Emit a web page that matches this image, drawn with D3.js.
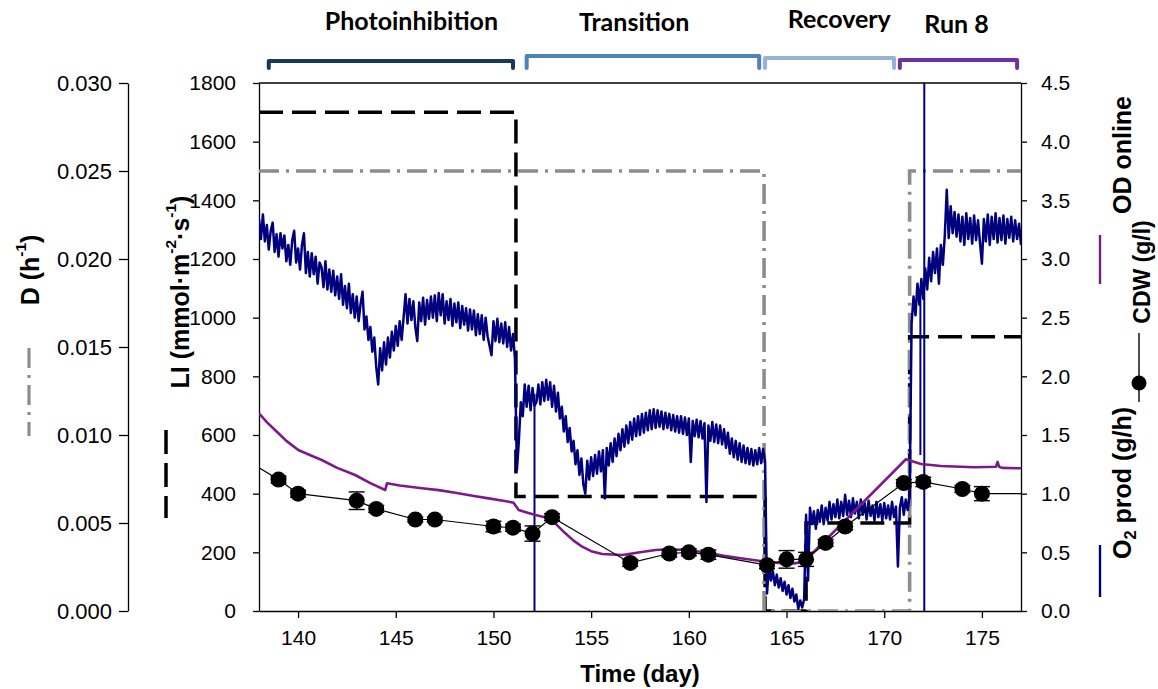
<!DOCTYPE html>
<html><head><meta charset="utf-8">
<script src="https://cdn.jsdelivr.net/npm/d3@7"></script>
<style>body{margin:0;background:#fff}svg{display:block}</style>
</head><body>
<svg id="c" width="1158" height="689"></svg>
<script>
// ---------------- data ----------------
const xTicks = [140,145,150,155,160,165,170,175];
const liTicks = [0,200,400,600,800,1000,1200,1400,1600,1800];
const dTicks = [0,0.005,0.010,0.015,0.020,0.025,0.030];
const rightTicks = [0,0.5,1.0,1.5,2.0,2.5,3.0,3.5,4.0,4.5];

const phaseNames = ["Photoinhibition","Transition","Recovery","Run 8"];
const phaseStart = [138.5,151.7,163.9,170.8];
const phaseEnd   = [151.0,163.6,170.5,176.8];

// light intensity (LI, mmol m-2 s-1), step function
const liDays   = [138,151.15,151.15,163.9,163.9,166.0,166.0,171.3,171.3,177];
const liValues = [1700,1700,390,390,0,0,300,300,935,935];

// dilution rate D (h-1), step function
const dDays   = [138,163.85,163.85,171.3,171.3,177];
const dValues = [0.025,0.025,0,0,0.025,0.025];

// CDW (g/l) with error bars
const cdwDays   = [139,140,143,144,146,147,150,151,152,153,157,159,160,161,164,165,166,167,168,171,172,174,175];
const cdwValues = [1.12,1.00,0.94,0.87,0.78,0.78,0.72,0.71,0.66,0.80,0.41,0.49,0.50,0.48,0.39,0.44,0.44,0.58,0.72,1.09,1.10,1.04,1.00];
const cdwErrors = [0.03,0.03,0.075,0.03,0.02,0.02,0.045,0.03,0.065,0.03,0.03,0.03,0.03,0.04,0.03,0.075,0.06,0.03,0.03,0.03,0.04,0.03,0.06];
const cdwLineStart = [138,1.22];
const cdwLineEnd   = [177,1.00];

// OD online
const odDays   = [138.0,138.4,138.82,139.4,140.01,140.6,141.21,142.0,142.92,143.7,144.46,144.55,145.2,146.34,147.2,148.05,149.0,149.75,150.5,151.03,151.29,151.7,152.15,152.83,153.2,153.68,154.1,154.54,155.0,155.57,156.59,157.5,158.3,158.9,159.92,160.95,161.8,162.65,163.94,164.6,165.39,165.9,171.11,171.88,172.9,174.61,175.72,175.8,175.88,176.03,177.0];
const odValues = [1.684,1.61,1.543,1.45,1.372,1.33,1.287,1.22,1.159,1.09,1.031,1.088,1.07,1.046,1.03,1.008,0.98,0.96,0.94,0.923,0.861,0.84,0.818,0.79,0.74,0.662,0.60,0.548,0.51,0.486,0.477,0.50,0.52,0.526,0.52,0.497,0.47,0.449,0.42,0.41,0.406,0.42,1.293,1.253,1.236,1.225,1.23,1.27,1.23,1.22,1.216];

// O2 production (g/h), sampled every 0.1 day, per phase
const o2Step = 0.1;
const o2PhotoStart = 138.0;
const o2Photo = [3.34,3.17,3.38,3.15,3.29,3.08,3.24,3.31,3.06,3.21,
 3.02,3.22,3.09,3.20,2.98,3.12,2.95,3.16,3.24,2.97,
 3.09,2.91,3.12,3.22,2.88,3.06,2.85,3.05,2.87,3.02,
 2.79,2.97,2.93,2.76,2.98,2.74,2.91,2.72,2.90,2.69,
 2.85,2.66,2.87,2.61,2.77,2.58,2.79,2.54,2.70,2.50,
 2.68,2.47,2.62,2.72,2.40,2.51,2.31,2.42,2.21,2.33,
 2.08,1.93,2.24,2.05,2.29,2.10,2.33,2.16,2.38,2.22,
 2.43,2.26,2.47,2.31,2.50,2.70,2.45,2.66,2.48,2.64,
 2.42,2.30,2.63,2.47,2.67,2.44,2.65,2.49,2.68,2.50,
 2.69,2.47,2.71,2.52,2.70,2.45,2.64,2.48,2.66,2.43,
 2.62,2.46,2.63,2.41,2.60,2.44,2.58,2.39,2.57,2.40,
 2.56,2.35,2.53,2.36,2.52,2.31,2.50,2.34,2.26,2.18,
 2.47,2.30,2.49,2.29,2.45,2.28,2.46,2.25,2.42,2.22,
 2.36,2.15];
const o2TransStart = 151.2;
const o2Trans = [1.20,1.45,1.78,1.66,1.93,1.74,1.92,1.71,
 1.90,1.75,1.78,1.93,1.76,1.95,1.79,1.97,1.80,1.95,
 1.74,1.92,1.70,1.86,1.64,1.74,1.53,1.66,1.44,1.56,
 1.36,1.45,1.25,1.37,1.16,1.30,1.08,1.00,1.28,1.12,
 1.31,1.15,1.33,1.17,1.36,1.19,1.37,0.96,1.39,1.24,
 1.43,1.27,1.47,1.32,1.51,1.37,1.55,1.40,1.58,1.43,
 1.61,1.46,1.64,1.49,1.66,1.50,1.68,1.52,1.69,1.54,
 1.71,1.55,1.72,1.56,1.71,1.57,1.70,1.55,1.69,1.56,
 1.68,1.54,1.67,1.53,1.66,1.52,1.66,1.51,1.65,1.50,
 1.64,1.27,1.62,1.49,1.63,1.48,1.62,1.47,1.60,0.93,
 1.58,1.45,1.61,1.44,1.59,1.43,1.58,1.42,1.55,1.39,
 1.52,1.34,1.47,1.31,1.45,1.29,1.43,1.27,1.41,1.26,
 1.39,1.25,1.38,1.24,1.37,1.25,1.39,1.26,1.38,1.28];
const o2RecovStart = 164.0;
const o2Recov = [0.15,0.38,0.26,0.34,0.22,0.31,0.20,0.28,0.17,0.25,
 0.14,0.22,0.11,0.19,0.08,0.14,0.02,0.09,0.03,0.10,
 0.82,0.26,0.88,0.74,0.85,0.70,0.86,0.76,0.90,0.74,
 0.88,0.77,0.93,0.78,0.91,0.80,0.95,0.79,0.93,0.81,
 0.99,0.82,0.94,0.80,0.96,0.83,0.93,0.79,0.95,0.82,
 0.92,0.78,0.94,0.81,0.90,0.77,0.93,0.80,0.91,0.77,
 0.92,0.79,0.90,0.78,0.93,0.80,0.89,0.38,0.88,0.97,
 0.82,0.95,0.86,0.98];
const o2Run8Start = 171.4;
const o2Run8 = [2.45,2.68,2.52,2.79,2.61,2.83,2.66,2.92,2.74,3.01,
 2.81,3.06,2.88,3.09,2.79,3.12,2.95,3.20,3.59,3.18,
 3.45,3.22,3.40,3.19,3.38,3.15,3.36,3.12,3.39,3.17,
 3.35,3.13,3.37,3.16,3.33,3.14,2.96,3.34,3.15,3.38,
 3.12,3.36,3.17,3.39,3.14,3.35,3.16,3.37,3.13,3.34,
 3.18,3.36,3.15,3.33,3.17,3.30,3.12];
// sharp O2 spikes: day, low, high
const o2SpikeDays = [152.1,171.85,172.05];
const o2SpikeLow  = [0,1.33,0];
const o2SpikeHigh = [1.85,2.75,4.6];

// ---------------- layout ----------------
const svg = d3.select("#c");
const L = 259, R = 1021, T = 83, B = 611;
const x  = d3.scaleLinear([138,177],[L,R]);
const yLI = d3.scaleLinear([0,1800],[B,T]);
const yR  = d3.scaleLinear([0,4.5],[B,T]);
const yD  = d3.scaleLinear([0,0.03],[B,T]);

const tickFont = "Arial, 'Liberation Sans', sans-serif";
const NAVY = "#00007e", PURPLE = "#7b1a89", GRAY = "#8c8c8c";
const phaseColors = ["#17375e","#4f81bd","#95b3d7","#7030a0"];

svg.append("clipPath").attr("id","plot").append("rect")
  .attr("x",L).attr("y",T).attr("width",R-L).attr("height",B-T);

function styleAxis(g, size){
  g.selectAll("path.domain").attr("stroke","#000").attr("stroke-width",1.3);
  g.selectAll(".tick line").attr("stroke","#000").attr("stroke-width",1.3);
  g.selectAll(".tick text").attr("font-family",tickFont).attr("font-size",size).attr("fill","#000");
}
const gx = svg.append("g").attr("transform",`translate(0,${B})`)
  .call(d3.axisBottom(x).tickValues(xTicks).tickSize(7).tickSizeOuter(0).tickPadding(12).tickFormat(d3.format("d")));
styleAxis(gx,21);

const gl = svg.append("g").attr("transform",`translate(${L},0)`)
  .call(d3.axisLeft(yLI).tickValues(liTicks).tickSize(6).tickSizeOuter(0).tickPadding(17).tickFormat(d3.format("d")));
styleAxis(gl,21);

const gd = svg.append("g").attr("transform",`translate(128,0)`)
  .call(d3.axisLeft(yD).tickValues(dTicks).tickSize(9).tickSizeOuter(0).tickPadding(7).tickFormat(d3.format(".3f")));
styleAxis(gd,22);

const gr = svg.append("g").attr("transform",`translate(${R},0)`)
  .call(d3.axisRight(yR).tickValues(rightTicks).tickSize(6).tickSizeOuter(0).tickPadding(14).tickFormat(d3.format(".1f")));
styleAxis(gr,21);

svg.append("line").attr("x1",L).attr("x2",R).attr("y1",T).attr("y2",T)
  .attr("stroke","#000").attr("stroke-width",1.3);

// plot content
const plot = svg.append("g").attr("clip-path","url(#plot)");

const lineLI = d3.line().x((d,i)=>x(liDays[i])).y((d,i)=>yLI(liValues[i]));
plot.append("path").attr("d",lineLI(liValues)).attr("fill","none")
  .attr("stroke","#000").attr("stroke-width",3.5).attr("stroke-dasharray","24,9");

const lineD = d3.line().x((d,i)=>x(dDays[i])).y((d,i)=>yD(dValues[i]));
plot.append("path").attr("d",lineD(dValues)).attr("fill","none")
  .attr("stroke",GRAY).attr("stroke-width",3.6).attr("stroke-dasharray","20,7,3,7");

// O2 series
const o2 = [];
[[o2PhotoStart,o2Photo],[o2TransStart,o2Trans],[o2RecovStart,o2Recov],[o2Run8Start,o2Run8]].forEach(([s,arr])=>{
  arr.forEach((v,i)=>o2.push([s+i*o2Step, v]));
});
plot.append("path").attr("d",d3.line().x(d=>x(d[0])).y(d=>yR(d[1]))(o2))
  .attr("fill","none").attr("stroke",NAVY).attr("stroke-width",2.5).attr("stroke-linejoin","round");
plot.selectAll("line.spike").data(o2SpikeDays).join("line").attr("class","spike")
  .attr("x1",d=>x(d)).attr("x2",d=>x(d))
  .attr("y1",(d,i)=>yR(o2SpikeLow[i])).attr("y2",(d,i)=>yR(o2SpikeHigh[i]))
  .attr("stroke",NAVY).attr("stroke-width",2);

// OD
plot.append("path").attr("d",d3.line().x((d,i)=>x(odDays[i])).y(d=>yR(d))(odValues))
  .attr("fill","none").attr("stroke",PURPLE).attr("stroke-width",2.6).attr("stroke-linejoin","round");

// CDW
const cdwLine = [cdwLineStart, ...cdwDays.map((d,i)=>[d,cdwValues[i]]), cdwLineEnd];
plot.append("path").attr("d",d3.line().x(d=>x(d[0])).y(d=>yR(d[1]))(cdwLine))
  .attr("fill","none").attr("stroke","#000").attr("stroke-width",1.2);
const eb = plot.append("g").attr("stroke","#000").attr("stroke-width",1.4);
cdwDays.forEach((d,i)=>{
  const cx = x(d), y1 = yR(cdwValues[i]-cdwErrors[i]), y2 = yR(cdwValues[i]+cdwErrors[i]);
  eb.append("line").attr("x1",cx).attr("x2",cx).attr("y1",y1).attr("y2",y2);
  eb.append("line").attr("x1",cx-8).attr("x2",cx+8).attr("y1",y1).attr("y2",y1);
  eb.append("line").attr("x1",cx-8).attr("x2",cx+8).attr("y1",y2).attr("y2",y2);
});
plot.selectAll("circle.cdw").data(cdwValues).join("circle").attr("class","cdw")
  .attr("cx",(d,i)=>x(cdwDays[i])).attr("cy",d=>yR(d)).attr("r",8).attr("fill","#000");

// phase brackets
const legY = 68;
const topY = [61,56,58,60];
phaseNames.forEach((name,i)=>{
  const x0 = x(phaseStart[i]), x1 = x(phaseEnd[i]);
  svg.append("path").attr("d",`M${x0},${legY}V${topY[i]}H${x1}V${legY}`)
    .attr("fill","none").attr("stroke",phaseColors[i]).attr("stroke-width",4)
    .attr("stroke-linejoin","round").attr("stroke-linecap","round");
});
const labelDays = [145.8,157.2,167.7,173.7];
const labelBase = [30,31,28,33];
svg.selectAll("text.phase").data(phaseNames).join("text").attr("class","phase")
  .attr("x",(d,i)=>x(labelDays[i])).attr("y",(d,i)=>labelBase[i])
  .attr("text-anchor","middle").attr("font-family","Lato, 'Open Sans', sans-serif")
  .attr("font-weight","bold").attr("font-size",25).attr("fill","#000").text(d=>d);

// axis titles
const titleFont = "Arial, 'Liberation Sans', sans-serif";
svg.append("text").attr("x",640).attr("y",682).attr("text-anchor","middle")
  .attr("font-family",titleFont).attr("font-weight","bold").attr("font-size",24).text("Time (day)");

function vtext(cx, cy, parts, size){
  const t = svg.append("text").attr("transform",`translate(${cx},${cy}) rotate(-90)`)
    .attr("text-anchor","middle").attr("dominant-baseline","central")
    .attr("font-family",titleFont).attr("font-weight","bold").attr("font-size",size).attr("fill","#000");
  parts.forEach(p=>{
    const s = t.append("tspan").text(p.t);
    if(p.sup){ s.attr("font-size",size*0.62).attr("dy",-size*0.4); }
    else if(p.sub){ s.attr("font-size",size*0.65).attr("dy",size*0.3); }
    if(p.back) s.attr("dy",p.back);
  });
  return t;
}
vtext(30,270,[{t:"D (h"},{t:"-1",sup:true},{t:")",back:10}],25);
vtext(180,292,[{t:"LI (mmol·m"},{t:"-2",sup:true},{t:"·s",back:10},{t:"-1",sup:true},{t:")",back:10}],25);
vtext(1122,155,[{t:"OD online"}],25);
vtext(1142,272,[{t:"CDW (g/l)"}],23);
vtext(1122,483,[{t:"O"},{t:"2",sub:true},{t:" prod (g/h)",back:-7.5}],25);

// legend symbols
svg.append("line").attr("x1",29).attr("x2",29).attr("y1",348).attr("y2",436)
  .attr("stroke",GRAY).attr("stroke-width",3.2).attr("stroke-dasharray","20,7,3,7");
svg.append("line").attr("x1",166).attr("x2",166).attr("y1",430).attr("y2",518)
  .attr("stroke","#000").attr("stroke-width",3.5).attr("stroke-dasharray","24,9");
svg.append("line").attr("x1",1100).attr("x2",1100).attr("y1",235).attr("y2",284)
  .attr("stroke",PURPLE).attr("stroke-width",2.4);
svg.append("line").attr("x1",1139).attr("x2",1139).attr("y1",333).attr("y2",402)
  .attr("stroke","#000").attr("stroke-width",1.4);
svg.append("circle").attr("cx",1139).attr("cy",383).attr("r",7.5).attr("fill","#000");
svg.append("line").attr("x1",1100).attr("x2",1100).attr("y1",545).attr("y2",597)
  .attr("stroke",NAVY).attr("stroke-width",2.4);
</script></body></html>
